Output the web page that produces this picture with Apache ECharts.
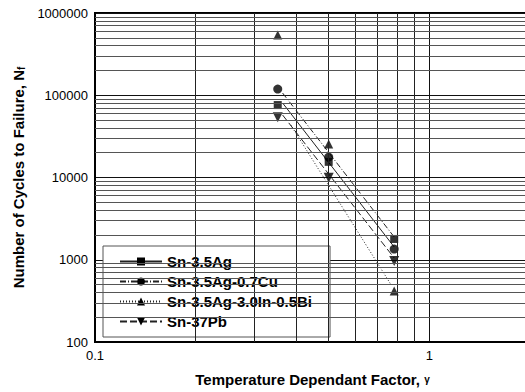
<!DOCTYPE html>
<html>
<head>
<meta charset="utf-8">
<script src="https://cdn.jsdelivr.net/npm/echarts@6/dist/echarts.min.js"></script>
<style>
  html, body { margin: 0; padding: 0; background: #fff; }
  #chart { width: 525px; height: 392px; }
</style>
</head>
<body>
<div id="chart"></div>
<script>
// measured points
const alloys = ['Sn-3.5Ag', 'Sn-3.5Ag-0.7Cu', 'Sn-3.5Ag-3.0In-0.5Bi', 'Sn-37Pb'];
const gammaValues = [0.352, 0.5, 0.785];
const cyclesAg = [76000, 15500, 1790];
const cyclesAgCu = [119000, 17700, 1350];
const cyclesAgInBi = [540000, 25500, 417];
const cyclesPb = [54000, 9900, 965];

// trend lines, end points
const fitGamma = [0.364, 0.785];
const fitAg = [80500, 1430];
const fitAgCu = [106400, 1890];
const fitPb = [57500, 1050];
const fitGammaInBi = [0.385, 0.769];
const fitAgInBi = [43500, 493];

// minor grid of the log paper
const xMinorTicks = [0.2, 0.3, 0.4, 0.5, 0.6, 0.7, 0.8, 0.9];
const yMinorTicks = [
  200, 300, 400, 500, 600, 700, 800, 900,
  2000, 3000, 4000, 5000, 6000, 7000, 8000, 9000,
  20000, 30000, 40000, 50000, 60000, 70000, 80000, 90000,
  200000, 300000, 400000, 500000, 600000, 700000, 800000, 900000,
]

const font = 'Liberation Sans, Arial, sans-serif'
const pair = (xs, ys) => xs.map((x, i) => [x, ys[i]])

const groups = [
  { name: alloys[0], pts: cyclesAg, fitX: fitGamma, fitY: fitAg, symbol: 'rect', size: 8, rotate: 0, line: 'solid' },
  { name: alloys[1], pts: cyclesAgCu, fitX: fitGamma, fitY: fitAgCu, symbol: 'circle', size: 9, rotate: 0, line: [6, 2, 1, 2] },
  { name: alloys[2], pts: cyclesAgInBi, fitX: fitGammaInBi, fitY: fitAgInBi, symbol: 'triangle', size: 9, rotate: 0, line: [1, 2] },
  { name: alloys[3], pts: cyclesPb, fitX: fitGamma, fitY: fitPb, symbol: 'triangle', size: 10, rotate: 180, line: [7, 3] },
]

const isDecade = v => Math.abs(Math.log10(v) - Math.round(Math.log10(v))) < 1e-6

const series = [{
  type: 'line',
  name: 'grid',
  data: [],
  silent: true,
  z: 1,
  markLine: {
    silent: true,
    animation: false,
    symbol: ['none', 'none'],
    label: { show: false },
    lineStyle: { color: '#555', width: 1, type: 'solid' },
    data: [
      ...xMinorTicks.map(v => ({ xAxis: v, lineStyle: { color: '#222' } })),
      ...yMinorTicks.map(v => ({ yAxis: v })),
    ],
  },
}]

groups.forEach(g => {
  series.push({
    type: 'line',
    name: g.name,
    data: pair(g.fitX, g.fitY),
    symbol: g.symbol,
    symbolSize: g.size,
    symbolRotate: g.rotate,
    showSymbol: false,
    lineStyle: { color: '#222', width: 1, type: g.line },
    itemStyle: { color: '#000' },
    z: 3,
  })
  series.push({
    type: 'scatter',
    name: g.name,
    data: pair(gammaValues, g.pts),
    symbol: g.symbol,
    symbolSize: g.size,
    symbolRotate: g.rotate,
    itemStyle: { color: '#000' },
    z: 4,
  })
})

const chart = echarts.init(document.getElementById('chart'), null, { renderer: 'svg' })
chart.setOption({
  animation: false,
  backgroundColor: '#fff',
  grid: {
    left: 95, width: 435, top: 13, bottom: 50,
    outerBoundsMode: 'none',
    show: true, borderColor: '#000', borderWidth: 2,
  },
  legend: {
    data: alloys,
    orient: 'vertical',
    left: 103,
    top: 246,
    padding: [8, 18, 8, 16],
    itemWidth: 42,
    itemHeight: 10,
    itemGap: 5,
    backgroundColor: '#fff',
    borderColor: '#555',
    borderWidth: 1,
    textStyle: { color: '#000', fontSize: 15, fontWeight: 'bold', fontFamily: font },
  },
  xAxis: {
    type: 'log',
    logBase: 10,
    min: 0.1,
    max: 2,
    name: 'Temperature Dependant Factor, {g|γ}',
    nameLocation: 'middle',
    nameGap: 30,
    nameTextStyle: { color: '#000', fontSize: 15, fontWeight: 'bold', fontFamily: font, rich: { g: { fontSize: 10, fontFamily: font, color: '#000' } } },
    axisLine: { lineStyle: { color: '#000', width: 2 } },
    axisTick: { show: false },
    axisLabel: { color: '#000', fontSize: 13, fontFamily: font, margin: 7, formatter: v => isDecade(v) ? String(Math.round(v * 10) / 10) : '' },
    splitLine: { show: true, lineStyle: { color: '#111', width: 1 } },
  },
  yAxis: {
    type: 'log',
    logBase: 10,
    min: 100,
    max: 1000000,
    name: 'Number of Cycles to Failure, N{s|f}',
    nameLocation: 'middle',
    nameGap: 68,
    nameTextStyle: { color: '#000', fontSize: 15, fontWeight: 'bold', fontFamily: font, rich: { s: { fontSize: 10, fontWeight: 'bold', fontFamily: font, color: '#000', padding: [6, 0, 0, 0] } } },
    axisLine: { lineStyle: { color: '#000', width: 2 } },
    axisTick: { show: false },
    axisLabel: { color: '#000', fontSize: 13, fontFamily: font, margin: 7, formatter: v => String(Math.round(v)) },
    splitLine: { show: true, lineStyle: { color: '#111', width: 1 } },
  },
  series,
})
</script>
</body>
</html>
